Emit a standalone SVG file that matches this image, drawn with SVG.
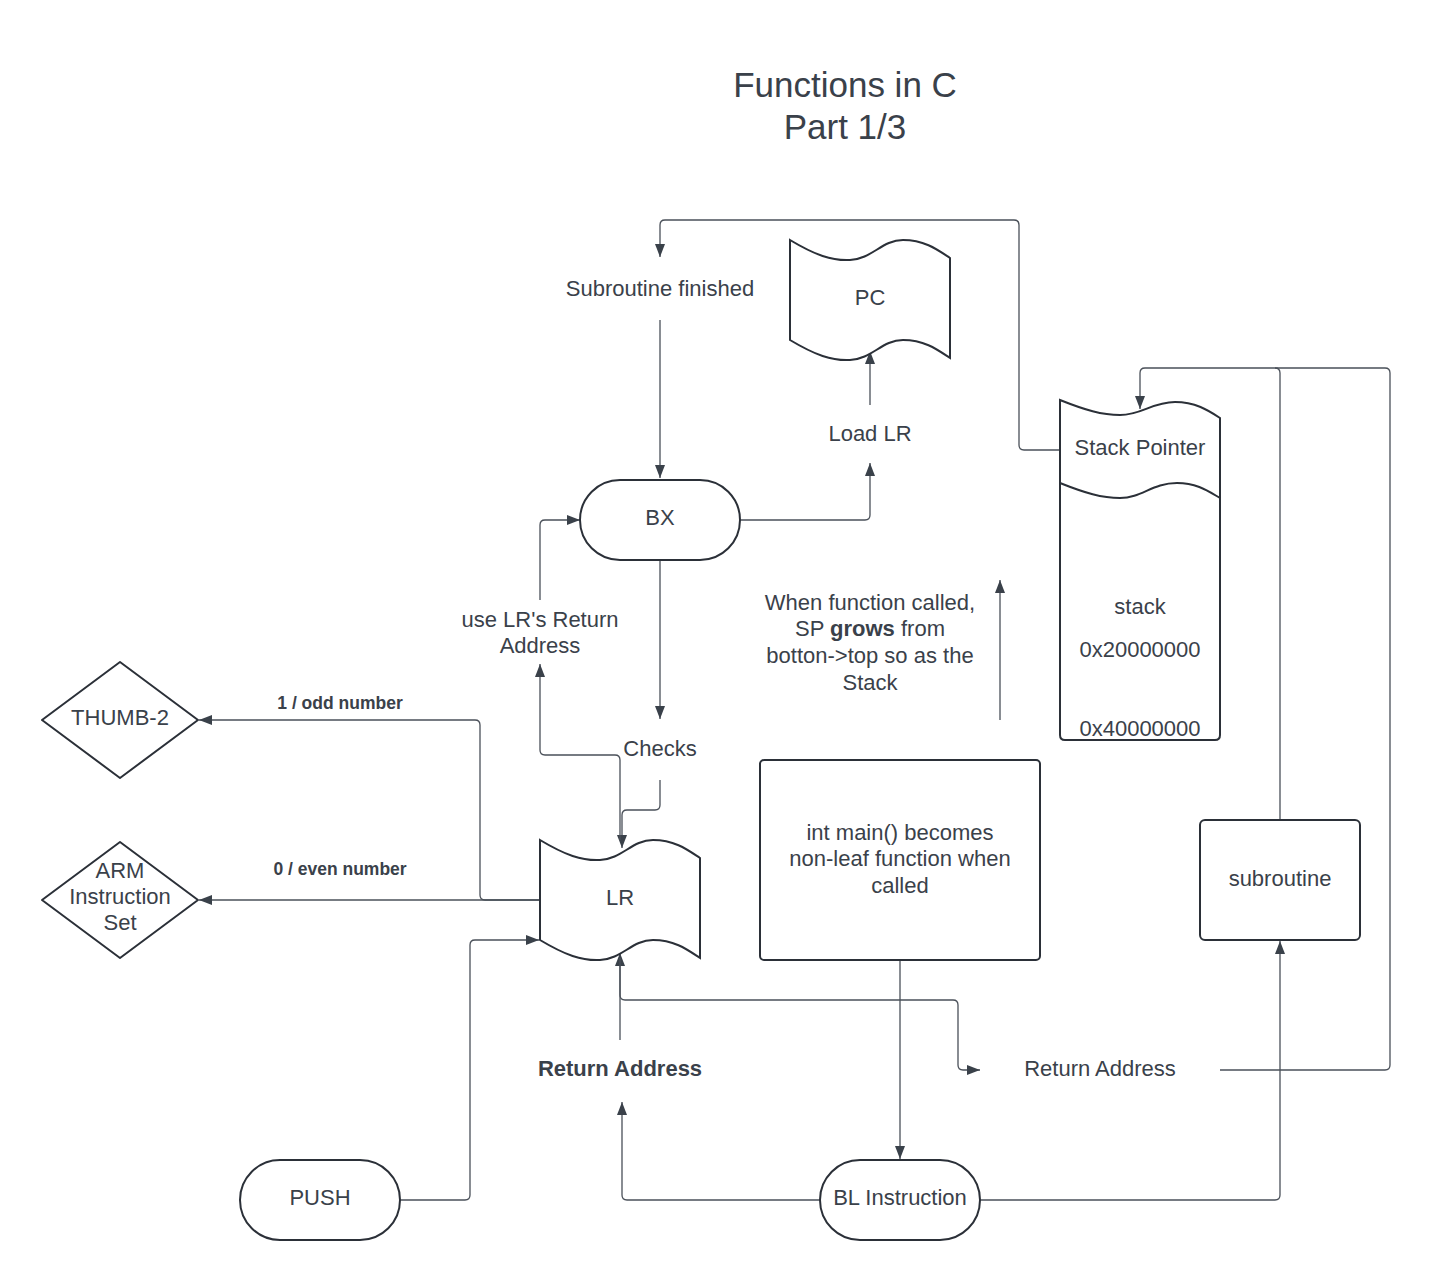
<svg xmlns="http://www.w3.org/2000/svg" width="1430" height="1280" viewBox="0 0 1430 1280">
<style>
.t{font-family:"Liberation Sans",Arial,sans-serif;font-size:22px;fill:#3a414a;text-anchor:middle;dominant-baseline:central}
.b{font-weight:bold}
.s{font-size:17.5px}
.title{font-size:35px}
.n{fill:#ffffff;stroke:#2b3038;stroke-width:2}
.c{fill:none;stroke:#4a5059;stroke-width:1.3}
</style>
<defs>
<marker id="arr" viewBox="0 0 13 10" refX="13" refY="5" markerWidth="13" markerHeight="10" orient="auto" markerUnits="userSpaceOnUse"><path d="M0,0 L13,5 L0,10 z" fill="#3a414a"/></marker>
</defs>
<rect width="1430" height="1280" fill="#ffffff"/>

<g id="title">
<text class="t title" x="845" y="84">Functions in C</text>
<text class="t title" x="845" y="126">Part 1/3</text>
</g>

<g id="connectors">
<!-- Stack Pointer -> Subroutine finished -->
<path class="c" marker-end="url(#arr)" d="M1060,450 L1024,450 Q1019,450 1019,445 L1019,225 Q1019,220 1014,220 L665,220 Q660,220 660,225 L660,257"/>
<!-- Subroutine finished -> BX -->
<path class="c" marker-end="url(#arr)" d="M660,320 L660,478"/>
<!-- BX -> Load LR -->
<path class="c" marker-end="url(#arr)" d="M740,520 L865,520 Q870,520 870,515 L870,463"/>
<!-- Load LR -> PC -->
<path class="c" marker-end="url(#arr)" d="M870,405 L870,351"/>
<!-- BX -> Checks -->
<path class="c" marker-end="url(#arr)" d="M660,560 L660,719"/>
<!-- Checks -> LR -->
<path class="c" marker-end="url(#arr)" d="M660,780 L660,805 Q660,810 655,810 L627,810 Q622,810 622,815 L622,848"/>
<!-- LR -> use LR's Return Address -->
<path class="c" marker-end="url(#arr)" d="M620,840 L620,760 Q620,755 615,755 L545,755 Q540,755 540,750 L540,664"/>
<!-- use LR's Return Address -> BX -->
<path class="c" marker-end="url(#arr)" d="M540,600 L540,525 Q540,520 545,520 L580,520"/>
<!-- LR -> THUMB-2 -->
<path class="c" marker-end="url(#arr)" d="M540,900 L485,900 Q480,900 480,895 L480,725 Q480,720 475,720 L199,720"/>
<!-- LR -> ARM -->
<path class="c" marker-end="url(#arr)" d="M540,900 L199,900"/>
<!-- PUSH -> LR -->
<path class="c" marker-end="url(#arr)" d="M400,1200 L465,1200 Q470,1200 470,1195 L470,945 Q470,940 475,940 L539,940"/>
<!-- BL -> Return Address (bold) -->
<path class="c" marker-end="url(#arr)" d="M820,1200 L627,1200 Q622,1200 622,1195 L622,1102"/>
<!-- Return Address (bold) -> LR -->
<path class="c" marker-end="url(#arr)" d="M620,1040 L620,953"/>
<!-- LR -> Return Address -->
<path class="c" marker-end="url(#arr)" d="M620,958 L620,995 Q620,1000 625,1000 L953,1000 Q958,1000 958,1005 L958,1065 Q958,1070 963,1070 L980,1070"/>
<!-- int main -> BL -->
<path class="c" marker-end="url(#arr)" d="M900,960 L900,1159"/>
<!-- BL -> subroutine -->
<path class="c" marker-end="url(#arr)" d="M980,1200 L1275,1200 Q1280,1200 1280,1195 L1280,941"/>
<!-- subroutine -> Stack Pointer -->
<path class="c" marker-end="url(#arr)" d="M1280,820 L1280,373 Q1280,368 1275,368 L1145,368 Q1140,368 1140,373 L1140,409"/>
<!-- Return Address -> Stack Pointer -->
<path class="c" d="M1220,1070 L1385,1070 Q1390,1070 1390,1065 L1390,373 Q1390,368 1385,368 L1275,368"/>
<!-- growth arrow -->
<path class="c" marker-end="url(#arr)" d="M1000,720 L1000,580"/>
</g>

<g id="subroutine-finished"><text class="t" x="660" y="288">Subroutine finished</text></g>

<g id="pc">
<path class="n" d="M790,240 C815,255 832,261 850,260 C872,259 882,240 903,240 C925,240 938,250 950,258 L950,358 C938,350 925,340 903,340 C882,340 872,359 850,360 C832,361 815,355 790,340 Z"/>
<text class="t" x="870" y="297">PC</text>
</g>

<g id="load-lr"><text class="t" x="870" y="433">Load LR</text></g>

<g id="stack-pointer">
<path class="n" d="M1060,400 C1085,410 1102,415 1120,415 C1142,415 1152,402 1175,402 C1195,402 1208,410 1220,418 L1220,735 Q1220,740 1215,740 L1065,740 Q1060,740 1060,735 Z"/>
<path class="n" fill="none" d="M1060,483 C1085,493 1102,498 1120,498 C1142,498 1152,483 1177,483 C1197,483 1208,491 1220,498"/>
<text class="t" x="1140" y="447">Stack Pointer</text>
<text class="t" x="1140" y="606">stack</text>
<text class="t" x="1140" y="649">0x20000000</text>
<text class="t" x="1140" y="728">0x40000000</text>
</g>

<g id="bx">
<rect class="n" x="580" y="480" width="160" height="80" rx="40" ry="40"/>
<text class="t" x="660" y="517">BX</text>
</g>

<g id="use-lr">
<text class="t" x="540" y="619">use LR's Return</text>
<text class="t" x="540" y="645">Address</text>
</g>

<g id="sp-grows">
<text class="t" x="870" y="602">When function called,</text>
<text class="t" x="870" y="628">SP <tspan class="b">grows</tspan> from</text>
<text class="t" x="870" y="655">botton-&gt;top so as the</text>
<text class="t" x="870" y="682">Stack</text>
</g>

<g id="checks"><text class="t" x="660" y="748">Checks</text></g>

<g id="thumb2">
<path class="n" d="M120,662 L198,720 L120,778 L42,720 Z" stroke-linejoin="round"/>
<text class="t" x="120" y="717">THUMB-2</text>
</g>

<g id="arm">
<path class="n" d="M120,842 L198,900 L120,958 L42,900 Z" stroke-linejoin="round"/>
<text class="t" x="120" y="870">ARM</text>
<text class="t" x="120" y="896">Instruction</text>
<text class="t" x="120" y="922">Set</text>
</g>

<g id="odd-label"><text class="t b s" x="340" y="703">1 / odd number</text></g>
<g id="even-label"><text class="t b s" x="340" y="869">0 / even number</text></g>

<g id="lr">
<path class="n" d="M540,840 C565,855 582,861 600,860 C622,859 632,840 653,840 C675,840 688,850 700,858 L700,958 C688,950 675,940 653,940 C632,940 622,959 600,960 C582,961 565,955 540,940 Z"/>
<text class="t" x="620" y="897">LR</text>
</g>

<g id="int-main">
<rect class="n" x="760" y="760" width="280" height="200" rx="4" ry="4"/>
<text class="t" x="900" y="832">int main() becomes</text>
<text class="t" x="900" y="858">non-leaf function when</text>
<text class="t" x="900" y="885">called</text>
</g>

<g id="subroutine">
<rect class="n" x="1200" y="820" width="160" height="120" rx="5" ry="5"/>
<text class="t" x="1280" y="878">subroutine</text>
</g>

<g id="return-address-bold"><text class="t b" x="620" y="1068">Return Address</text></g>
<g id="return-address"><text class="t" x="1100" y="1068">Return Address</text></g>

<g id="push">
<rect class="n" x="240" y="1160" width="160" height="80" rx="40" ry="40"/>
<text class="t" x="320" y="1197">PUSH</text>
</g>

<g id="bl">
<rect class="n" x="820" y="1160" width="160" height="80" rx="40" ry="40"/>
<text class="t" x="900" y="1197">BL Instruction</text>
</g>
</svg>
